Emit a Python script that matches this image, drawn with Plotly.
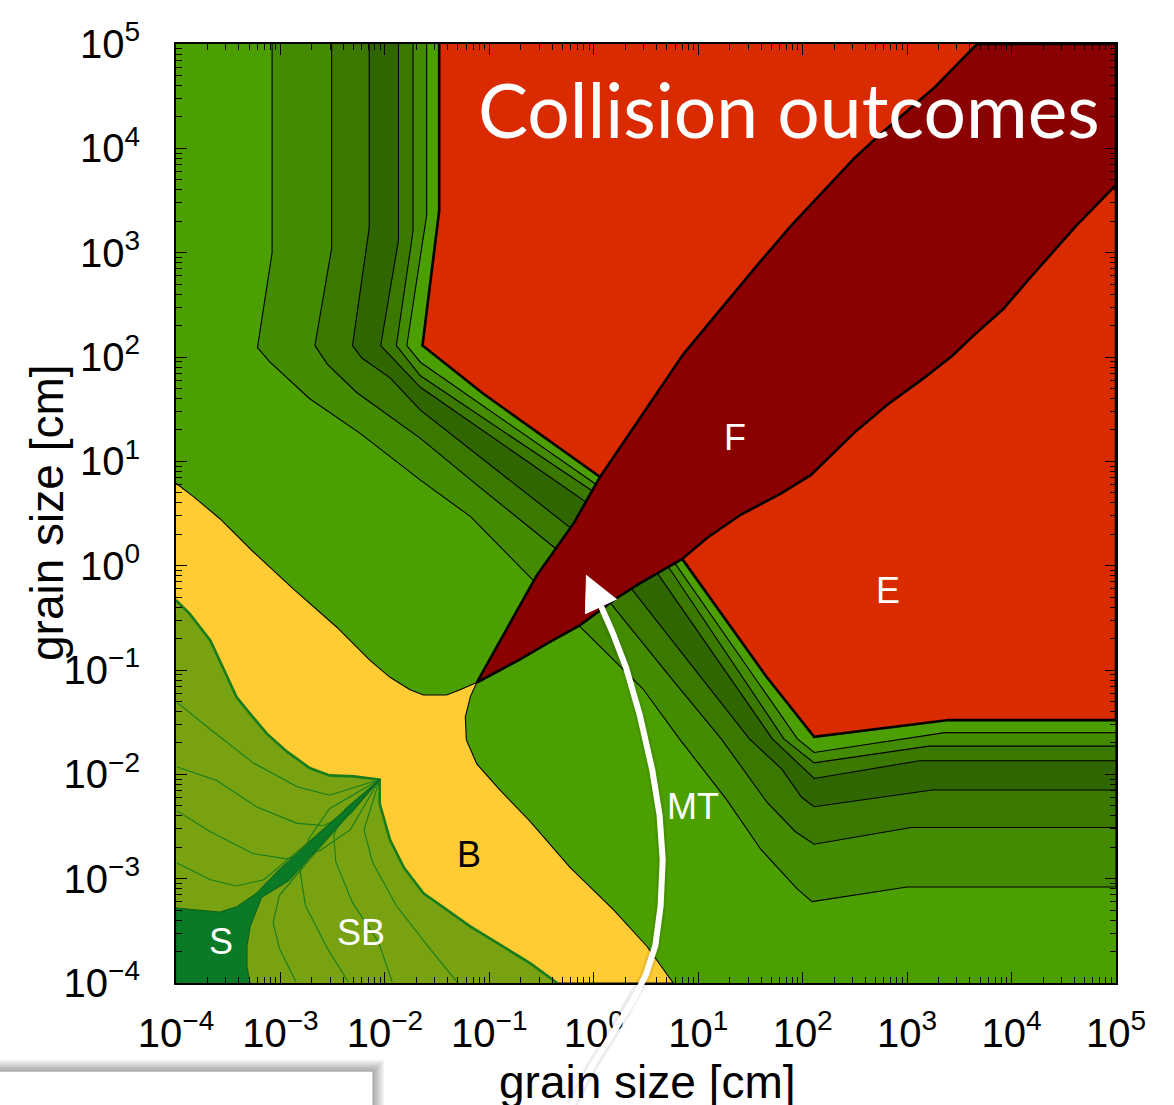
import plotly.graph_objects as go

# ---------------- data: log10 of grain size [cm] ----------------
DECADES = [-4, -3, -2, -1, 0, 1, 2, 3, 4, 5]

# mass-transfer band boundaries, from the top edge down and out to the right edge
L1_x = [-3.08, -3.08, -3.22, -3.10, -2.72, -2.24, -1.66, -1.18, -0.57, -0.15, 0.47, 0.82, 1.27, 1.60, 1.95, 2.09, 3.00, 5.0]
L1_y = [5.0, 3.00, 2.09, 1.95, 1.60, 1.27, 0.82, 0.47, -0.15, -0.57, -1.18, -1.66, -2.24, -2.72, -3.10, -3.22, -3.08, -3.08]
L2_x = [-2.51, -2.51, -2.67, -2.55, -2.27, -1.66, -1.09, -0.36, 0.16, 0.75, 1.22, 1.66, 1.93, 2.11, 3.04, 5.0]
L2_y = [5.0, 3.04, 2.11, 1.93, 1.66, 1.22, 0.75, 0.16, -0.36, -1.09, -1.66, -2.27, -2.55, -2.67, -2.51, -2.51]
L3_x = [-2.15, -2.15, -2.31, -2.22, -1.95, -1.66, -0.22, 0.36, 1.49, 1.80, 1.99, 2.11, 3.24, 5.0]
L3_y = [5.0, 3.24, 2.11, 1.99, 1.80, 1.49, 0.36, -0.22, -1.66, -1.95, -2.22, -2.31, -2.15, -2.15]
L4_x = [-1.87, -1.87, -2.04, -1.66, -0.06, 0.60, 1.71, 2.11, 3.12, 5.0]
L4_y = [5.0, 3.12, 2.11, 1.71, 0.60, -0.06, -1.66, -2.04, -1.87, -1.87]
L5_x = [-1.73, -1.73, -1.89, -1.66, -0.02, 0.72, 1.82, 2.11, 3.21, 5.0]
L5_y = [5.0, 3.21, 2.11, 1.82, 0.72, -0.02, -1.66, -1.89, -1.73, -1.73]
L6_x = [-1.60, -1.60, -1.79, -1.66, 0.02, 0.78, 1.95, 2.11, 3.36, 5.0]
L6_y = [5.0, 3.36, 2.11, 1.95, 0.78, 0.02, -1.66, -1.79, -1.60, -1.60]
# erosion (E) boundary
L7_x = [-1.48, -1.48, -1.64, -1.06, 0.06, 0.85, 1.65, 2.11, 3.40, 5.0]
L7_y = [5.0, 3.40, 2.11, 1.65, 0.85, 0.06, -1.06, -1.64, -1.48, -1.48]

# fragmentation (F) region edges
F_up_x = [-1.12, -0.55, -0.19, 0.06, 0.44, 0.86, 1.20, 1.54, 1.89, 2.21, 2.50, 2.76, 3.27, 3.67]
F_up_y = [-1.12, -0.10, 0.41, 0.85, 1.41, 2.03, 2.44, 2.85, 3.26, 3.60, 3.91, 4.15, 4.59, 5.0]
F_lo_x = [5.0, 4.62, 4.17, 3.92, 3.63, 3.43, 3.15, 2.82, 2.50, 2.08, 1.79, 1.41, 1.09, 0.84, 0.44, 0.22, -0.13, -0.42, -0.71, -1.12]
F_lo_y = [3.65, 3.26, 2.75, 2.46, 2.20, 2.01, 1.79, 1.55, 1.28, 0.87, 0.69, 0.49, 0.27, 0.06, -0.17, -0.31, -0.57, -0.73, -0.90, -1.12]

# bouncing (B) region edges
B_up_x = [-4.0, -3.83, -3.58, -3.29, -2.88, -2.46, -2.14, -1.95, -1.76, -1.63, -1.41, -1.28, -1.12]
B_up_y = [0.79, 0.66, 0.45, 0.16, -0.22, -0.59, -0.91, -1.07, -1.19, -1.24, -1.24, -1.19, -1.12]
B_rt_x = [-1.18, -1.23, -1.22, -1.12, -0.90, -0.61, -0.23, 0.19, 0.51, 0.76]
B_rt_y = [-1.25, -1.45, -1.67, -1.90, -2.15, -2.45, -2.89, -3.30, -3.65, -4.0]

# sticking/bouncing (SB) boundary: left edge -> apex -> bottom edge
SB_x = [-4.0, -3.87, -3.67, -3.42, -3.29, -3.13, -2.94, -2.72, -2.53, -2.30, -2.05, -2.05, -1.95, -1.82, -1.63, -1.41, -1.18, -0.87, -0.61, -0.35]
SB_y = [-0.33, -0.46, -0.72, -1.26, -1.42, -1.61, -1.78, -1.94, -2.01, -2.02, -2.05, -2.28, -2.63, -2.89, -3.14, -3.30, -3.46, -3.65, -3.81, -4.0]

# sticking (S) region
S_x = [-4.0, -4.0, -3.80, -3.58, -3.42, -3.23, -3.02, -2.05, -2.92, -3.18, -3.29, -3.32, -3.32, -3.29]
S_y = [-4.0, -3.28, -3.30, -3.32, -3.27, -3.14, -2.92, -2.05, -3.02, -3.18, -3.46, -3.65, -3.84, -4.0]

# thin contours inside SB
FAN = [
    ([-3.99, -3.67, -3.26, -2.84, -2.53, -2.27, -2.05], [-1.31, -1.57, -1.89, -2.12, -2.20, -2.12, -2.05]),
    ([-3.99, -3.61, -3.23, -2.84, -2.59, -2.33, -2.05], [-1.93, -2.06, -2.31, -2.47, -2.49, -2.38, -2.05]),
    ([-3.99, -3.67, -3.26, -2.94, -2.62, -2.33, -2.05], [-2.35, -2.55, -2.76, -2.81, -2.73, -2.53, -2.05]),
    ([-3.99, -3.67, -3.42, -3.16, -2.78, -2.05], [-2.85, -3.01, -3.07, -3.01, -2.69, -2.05]),
    ([-1.31, -1.57, -1.89, -2.12, -2.20, -2.12, -2.05], [-3.99, -3.67, -3.26, -2.84, -2.53, -2.27, -2.05]),
    ([-1.93, -2.06, -2.31, -2.47, -2.49, -2.38, -2.05], [-3.99, -3.61, -3.23, -2.84, -2.59, -2.33, -2.05]),
    ([-2.35, -2.55, -2.76, -2.81, -2.73, -2.53, -2.05], [-3.99, -3.67, -3.26, -2.94, -2.62, -2.33, -2.05]),
    ([-2.85, -3.01, -3.07, -3.01, -2.69, -2.05], [-3.99, -3.67, -3.42, -3.16, -2.78, -2.05]),
]

# region labels
LABELS = ["F", "E", "MT", "B", "S", "SB"]
LABEL_x = [1.35, 2.82, 0.95, -1.19, -3.57, -2.23]
LABEL_y = [1.23, -0.24, -2.31, -2.77, -3.60, -3.52]
LABEL_col = ["white", "white", "white", "black", "white", "white"]

# growth-path arrow (extends below the axes)
ARROW_x = [-0.21, -0.02, 0.20, 0.38, 0.50, 0.59, 0.64, 0.66, 0.63, 0.56, 0.44, 0.31, 0.18, 0.07]
ARROW_y = [-5.17, -4.80, -4.45, -4.16, -3.92, -3.64, -3.26, -2.82, -2.39, -1.96, -1.43, -0.98, -0.64, -0.39]
HEAD_x = [-0.07, -0.08, 0.22]
HEAD_y = [-0.09, -0.46, -0.32]

# colours
C_MT = "#4c9f00"
C_G1 = "#438b00"
C_G2 = "#3a7800"
C_G3 = "#306600"
C_E = "#da2a00"
C_F = "#8b0000"
C_B = "#ffcd33"
C_SB = "#79a212"
C_S = "#0a7a26"
C_SBL = "#177c1c"


def cm(v):
    return [10.0 ** t for t in v]


fig = go.Figure()


def poly(xs, ys, fill, lc="black", lw=1.0, ax=("x", "y")):
    fig.add_trace(go.Scatter(
        x=cm(xs), y=cm(ys), mode="lines", fill="toself", fillcolor=fill,
        line=dict(color=lc, width=lw), hoverinfo="skip", showlegend=False,
        xaxis=ax[0], yaxis=ax[1]))


def line(xs, ys, color, width, ax=("x", "y")):
    fig.add_trace(go.Scatter(
        x=cm(xs), y=cm(ys), mode="lines", line=dict(color=color, width=width),
        hoverinfo="skip", showlegend=False, xaxis=ax[0], yaxis=ax[1]))


# background (mass transfer)
poly([-4, 5, 5, -4], [-4, -4, 5, 5], C_MT, lw=0)

# bands (each filled region lies beyond its boundary)
for bx, by, col in [(L1_x, L1_y, C_G1), (L2_x, L2_y, C_G2), (L3_x, L3_y, C_G3),
                    (L4_x, L4_y, C_G2), (L5_x, L5_y, C_G1), (L6_x, L6_y, C_MT)]:
    poly(bx + [5.0], by + [5.0], col, "black", 1.1)
poly(L7_x + [5.0], L7_y + [5.0], C_E, "black", 2.6)

# fragmentation
poly(F_up_x + [5.0] + F_lo_x, F_up_y + [5.0] + F_lo_y, C_F, "black", 2.6)

# bouncing
poly(B_up_x + B_rt_x + SB_x[::-1], B_up_y + B_rt_y + SB_y[::-1], C_B, "black", 1.1)

# sticking / bouncing
poly(SB_x + [-4.0], SB_y + [-4.0], C_SB, C_SB, 0)
for fx, fy in FAN:
    line(fx, fy, C_SBL, 1.1)
line(SB_x, SB_y, C_SBL, 2.6)

# sticking
poly(S_x, S_y, C_S, "#0b5e1c", 1.0)

# ---- overlay axes covering the whole page (same scale) ----
W, H = 1174, 1105
xd = [176 / W, 1116 / W]
yd = [(H - 983) / H, (H - 44) / H]
sx = 9 / (xd[1] - xd[0])
sy = 9 / (yd[1] - yd[0])
x2r = [-4 - xd[0] * sx, 5 + (1 - xd[1]) * sx]
y2r = [-4 - yd[0] * sy, 5 + (1 - yd[1]) * sy]

# white box with soft shadow in the lower-left corner of the page
BOX_x = [-5.75, -2.12]
BOX_y = [-5.30, -4.85]
for k in range(5, 0, -1):
    e = 0.022 * k
    poly([BOX_x[0], BOX_x[1] + e, BOX_x[1] + e, BOX_x[0]],
         [BOX_y[0], BOX_y[0], BOX_y[1] + e, BOX_y[1] + e],
         "rgba(0,0,0,0.07)", "rgba(0,0,0,0)", 0, ax=("x2", "y2"))
poly([BOX_x[0], BOX_x[1], BOX_x[1], BOX_x[0]], [BOX_y[0], BOX_y[0], BOX_y[1], BOX_y[1]],
     "white", "white", 0, ax=("x2", "y2"))

# arrow
line(ARROW_x, ARROW_y, "rgba(0,0,0,0.08)", 11, ax=("x2", "y2"))
line(ARROW_x, ARROW_y, "white", 6, ax=("x2", "y2"))
poly(HEAD_x, HEAD_y, "white", "white", 1, ax=("x2", "y2"))

# ---- annotations ----
ann = []
for t, lx, ly, c in zip(LABELS, LABEL_x, LABEL_y, LABEL_col):
    ann.append(dict(text=t, x=lx, y=ly, xref="x", yref="y", showarrow=False,
                    font=dict(family="Liberation Sans, Arial", size=36, color=c),
                    xanchor="center", yanchor="middle"))
ann.append(dict(text="Collision outcomes", x=1.87, y=4.38, xref="x", yref="y", showarrow=False,
                font=dict(family="Lato", size=75, color="white"), xanchor="center", yanchor="middle"))
ann.append(dict(text="grain size [cm]", x=647 / W, y=(H - 1054) / H, xref="paper", yref="paper",
                showarrow=False, xanchor="center", yanchor="top",
                font=dict(family="Liberation Sans, Arial", size=46, color="black")))
ann.append(dict(text="grain size [cm]", x=47 / W, y=(H - 513) / H, xref="paper", yref="paper",
                showarrow=False, xanchor="center", yanchor="middle", textangle=-90,
                font=dict(family="Liberation Sans, Arial", size=46, color="black")))

tick_text = [("10<sup>" + str(n).replace("-", "\u2212") + "</sup>") for n in DECADES]
minor_vals = [k * 10.0 ** n for n in DECADES[:-1] for k in range(2, 10)]

axis_common = dict(
    type="log", range=[-4, 5], showgrid=False, zeroline=False, showline=True,
    linecolor="black", linewidth=2, mirror="allticks", ticks="inside", ticklen=11,
    tickwidth=1.3, tickcolor="black", tickmode="array",
    tickvals=[10.0 ** n for n in DECADES], ticktext=tick_text,
    minor=dict(ticks="inside", ticklen=6, tickwidth=1, tickcolor="black",
               tickmode="array", tickvals=minor_vals, showgrid=False),
    tickfont=dict(family="Liberation Sans, Arial", size=40, color="black"),
    automargin=False, fixedrange=True, layer="above traces")

fig.update_layout(
    width=W, height=H, margin=dict(l=0, r=0, t=0, b=0, autoexpand=False),
    paper_bgcolor="white", plot_bgcolor="rgba(0,0,0,0)", showlegend=False,
    xaxis=dict(domain=xd, anchor="y", ticklabelstandoff=14, **axis_common),
    yaxis=dict(domain=yd, anchor="x", ticklabelstandoff=26, **axis_common),
    xaxis2=dict(domain=[0, 1], range=x2r, type="log", visible=False, anchor="y2", fixedrange=True),
    yaxis2=dict(domain=[0, 1], range=y2r, type="log", visible=False, anchor="x2", fixedrange=True),
    annotations=ann,
)

fig.write_html("out.html")
